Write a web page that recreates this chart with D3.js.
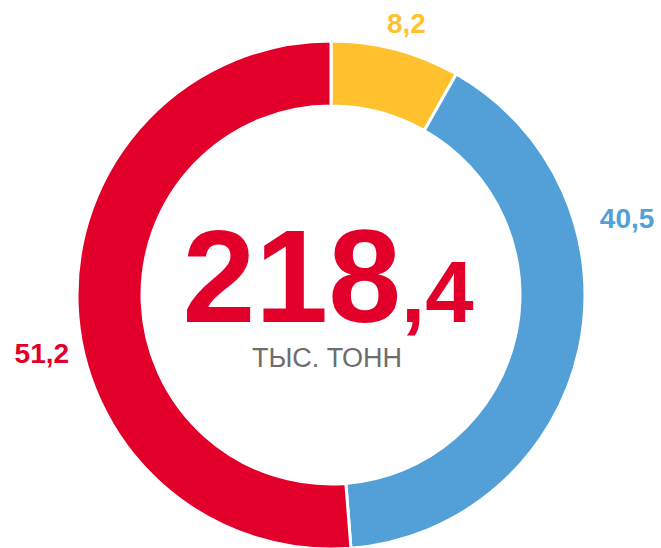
<!DOCTYPE html>
<head>
	<meta charset="utf-8">
	<script src="https://d3js.org/d3.v7.min.js"></script>
	<style>
		body { margin: 0; background: #fff; }
		text { font-family: "Liberation Sans", Arial, sans-serif; }
	</style>
</head>
<body>
	<script type="text/javascript">

		// data
		var categories = ["a", "b", "c"];
		var values = [8.2, 40.5, 51.2];
		var labels = ["8,2", "40,5", "51,2"];
		var colors = ["#ffc22e", "#52a0d7", "#e2002b"];
		var totalMain = "218";
		var totalDec = ",4";
		var unit = "ТЫС. ТОНН";

		var w = 661;
		var h = 548;
		var cx = 331, cy = 295;
		var outerR = 254, innerR = 189;

		// where each value label sits (angle in degrees from 12 o'clock, radius)
		var labelPos = [[15.5, 282], [75.4, 306], [258.6, 295]];

		var svg = d3.select("body")
				.append("svg")
				.attr("width", w)
				.attr("height", h);

		var g = svg.append("g")
				.attr("transform", "translate(" + cx + "," + cy + ")");

		var pie = d3.pie()
				.sort(null)
				.value(function(d){ return d; });

		var arc = d3.arc()
				.innerRadius(innerR)
				.outerRadius(outerR);

		g.selectAll("path")
			.data(pie(values))
			.enter()
			.append("path")
			.attr("d", arc)
			.attr("fill", function(d, i){ return colors[i]; })
			.attr("stroke", "#fff")
			.attr("stroke-width", 3);

		g.selectAll("text.lbl")
			.data(labels)
			.enter()
			.append("text")
			.attr("class", "lbl")
			.attr("x", function(d, i){
				return labelPos[i][1] * Math.sin(labelPos[i][0] * Math.PI / 180);
			})
			.attr("y", function(d, i){
				return -labelPos[i][1] * Math.cos(labelPos[i][0] * Math.PI / 180);
			})
			.attr("text-anchor", "middle")
			.attr("dy", "0.36em")
			.attr("font-size", 28)
			.attr("font-weight", "bold")
			.attr("fill", function(d, i){ return colors[i]; })
			.text(function(d){ return d; });

		// total in the middle
		var total = g.append("text")
			.attr("x", -3)
			.attr("y", 27)
			.attr("text-anchor", "middle")
			.attr("font-weight", "bold")
			.attr("fill", colors[2]);
		total.append("tspan")
			.attr("font-size", 131)
			.text(totalMain);
		total.append("tspan")
			.attr("font-size", 87)
			.text(totalDec);

		g.append("text")
			.attr("x", -4)
			.attr("y", 72)
			.attr("text-anchor", "middle")
			.attr("font-size", 27)
			.attr("fill", "#6d6d6d")
			.text(unit);

	</script>
</body>
